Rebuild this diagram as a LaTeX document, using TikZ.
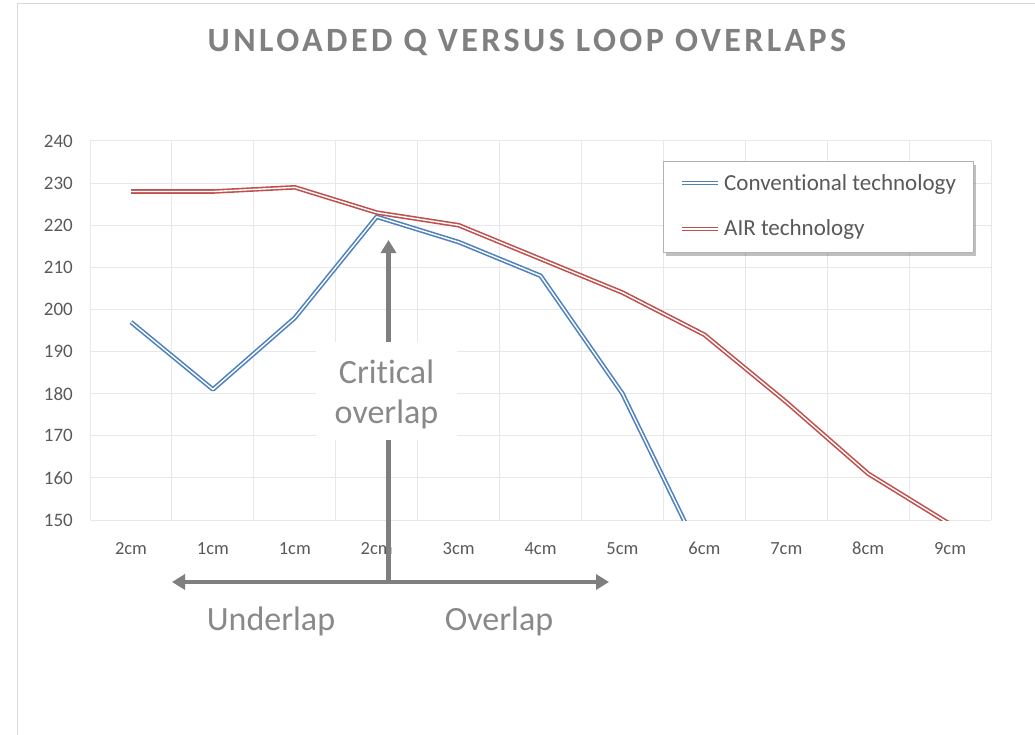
\documentclass[tikz,border=0pt]{standalone}
\usepackage{fontspec}
\setmainfont{Carlito}[Ligatures={NoCommon}]
\usetikzlibrary{arrows.meta,shadows}
\definecolor{gridc}{RGB}{232,232,232}
\definecolor{framec}{RGB}{217,217,217}
\definecolor{tickc}{RGB}{89,89,89}
\definecolor{titlec}{RGB}{128,128,128}
\definecolor{annc}{RGB}{127,127,127}
\definecolor{anntext}{RGB}{137,137,137}
\definecolor{bluec}{RGB}{79,129,189}
\definecolor{redc}{RGB}{192,80,77}
\tikzset{
  gridline/.style={draw=gridc, line width=1pt},
  seriesblue/.style={draw=bluec, double=white, double distance=1.4pt, line width=1.6pt, line join=round},
  seriesred/.style={draw=redc, double=white, double distance=1.4pt, line width=1.6pt, line join=round},
  ticklbl/.style={text=tickc, font=\fontsize{19}{22}\selectfont, inner sep=0pt},
  catlbl/.style={text=tickc, font=\fontsize{18.5}{22}\selectfont, inner sep=0pt, anchor=base},
  annarrow/.style={draw=annc, line width=4.5pt, -{Triangle[length=13pt,width=15pt]}},
  anntxt/.style={text=anntext, font=\fontsize{34}{40}\selectfont, inner sep=0pt},
}
\begin{document}
\begin{tikzpicture}[x=1pt,y=-1pt]
\useasboundingbox (0,0) rectangle (1035,735);
% outer chart frame
\draw[framec, line width=1pt] (17,735) -- (17,4) -- (1035,4);
% title
\node[text=titlec, font=\fontsize{34}{40}\selectfont\bfseries\addfontfeature{LetterSpace=10}] (title) at (527,42) {UNLOADED Q VERSUS LOOP OVERLAPS};
% horizontal gridlines and y tick labels
\foreach \v [count=\k from 0] in {150,160,...,240}{
  \pgfmathsetmacro{\yy}{520-\k*42.111}
  \draw[gridline] (90,\yy) -- (991,\yy);
  \node[ticklbl, anchor=east] (ytick\v) at (73,\yy) {\v};
}
% vertical gridlines
\foreach \i in {0,...,11}{
  \pgfmathsetmacro{\xx}{90+\i*81.909}
  \draw[gridline] (\xx,141) -- (\xx,520);
}
% category labels
\foreach \lab [count=\i from 0] in {2cm,1cm,1cm,2cm,3cm,4cm,5cm,6cm,7cm,8cm,9cm}{
  \pgfmathsetmacro{\xx}{131+\i*81.909}
  \node[catlbl] (cat\i) at (\xx,554) {\lab};
}
% data series
\begin{scope}
\clip (90,141) rectangle (991,520);
\begin{scope}[shift={(131,520)}, xscale=81.909, yscale=-4.2111]
\draw[seriesblue] (0,47) -- (1,31) -- (2,48) -- (3,72) -- (4,66) -- (5,58) -- (6,30) -- (7,-10);
\draw[seriesred] (0,78) -- (1,78) -- (2,79) -- (3,73) -- (4,70) -- (5,62) -- (6,54) -- (7,44) -- (8,28) -- (9,11) -- (10,-1);
\end{scope}
\end{scope}
% legend
\node[draw=gray!60, fill=white, line width=0.8pt, minimum width=310pt, minimum height=91pt, inner sep=0pt,
  drop shadow={shadow xshift=3pt, shadow yshift=-4pt, fill=black, opacity=0.25}] (legend) at (818,206.5) {};
\draw[seriesblue] (682,183) -- (718,183);
\node[text=tickc, font=\fontsize{23}{26}\selectfont, anchor=west, inner sep=0pt] (legblue) at (724,184) {Conventional technology};
\draw[seriesred] (682,229) -- (718,229);
\node[text=tickc, font=\fontsize{23}{26}\selectfont, anchor=west, inner sep=0pt] (legred) at (724,229) {AIR technology};
% annotation arrows
\coordinate (junction) at (388.5,582);
\coordinate (uptip) at (388.5,240);
\coordinate (lefttip) at (172,582);
\coordinate (righttip) at (609,582);
\draw[annarrow] (junction) -- (uptip);
\draw[annarrow] (junction) -- (lefttip);
\draw[annarrow] (junction) -- (righttip);
% critical overlap label box
\node[fill=white, minimum width=141pt, minimum height=98pt, inner sep=0pt] (critbox) at (386.5,391) {};
\node[anntxt, align=center] (crit) at (386.5,394) {Critical\\[0pt]overlap};
\node[anntxt] (under) at (271,621) {Underlap};
\node[anntxt] (over) at (499,621) {Overlap};
\end{tikzpicture}
\end{document}
